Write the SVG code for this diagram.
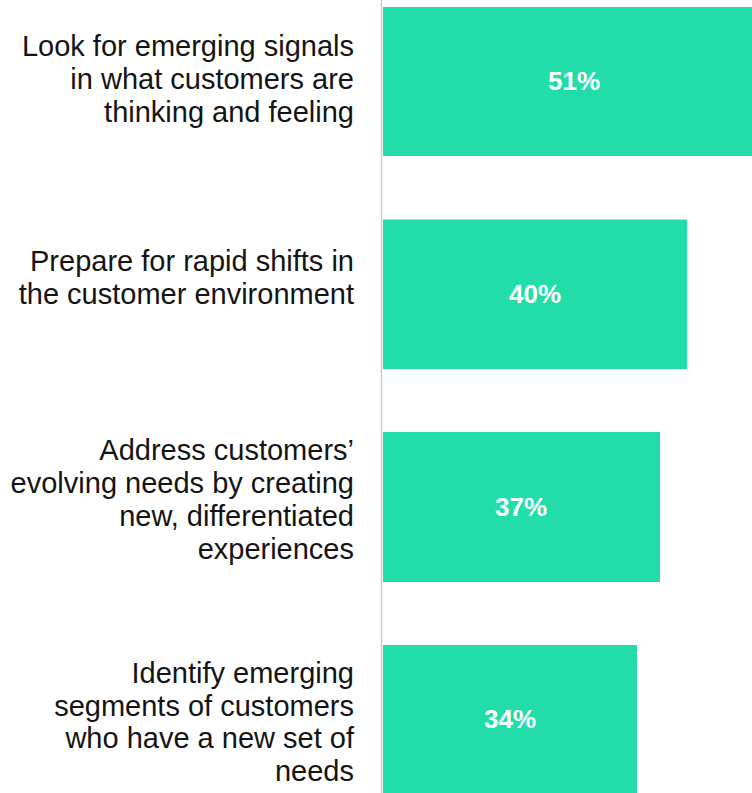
<svg xmlns="http://www.w3.org/2000/svg" width="752" height="793" viewBox="0 0 752 793">
  <style>
    .bar { fill: #22DDAA; }
    .lbl { font-family: "Liberation Sans", Arial, sans-serif; font-size: 29px; fill: #141414; text-anchor: end; }
    .val { font-family: "Liberation Sans", Arial, sans-serif; font-size: 26px; font-weight: bold; fill: #ffffff; text-anchor: middle; }
  </style>
  <rect x="0" y="0" width="752" height="793" fill="#ffffff"/>
  <g id="axis">
    <line x1="381.5" y1="0" x2="381.5" y2="793" stroke="#c9cdd5" stroke-width="1.5"/>
  </g>
  <g id="row1">
    <rect class="bar" x="383" y="7" width="369" height="149"/>
    <text class="val" x="574" y="90">51%</text>
    <text class="lbl" x="354" y="56">Look for emerging signals</text>
    <text class="lbl" x="354" y="89">in what customers are</text>
    <text class="lbl" x="354" y="122">thinking and feeling</text>
  </g>
  <g id="row2">
    <rect class="bar" x="383" y="219.5" width="304" height="149.5"/>
    <text class="val" x="535" y="303">40%</text>
    <text class="lbl" x="354" y="271">Prepare for rapid shifts in</text>
    <text class="lbl" x="354" y="304">the customer environment</text>
  </g>
  <g id="row3">
    <rect class="bar" x="383" y="432" width="277" height="150"/>
    <text class="val" x="521" y="516">37%</text>
    <text class="lbl" x="354" y="460">Address customers’</text>
    <text class="lbl" x="354" y="493">evolving needs by creating</text>
    <text class="lbl" x="354" y="526">new, differentiated</text>
    <text class="lbl" x="354" y="559">experiences</text>
  </g>
  <g id="row4">
    <rect class="bar" x="383" y="645" width="254" height="148"/>
    <text class="val" x="510" y="728">34%</text>
    <text class="lbl" x="354" y="683">Identify emerging</text>
    <text class="lbl" x="354" y="716">segments of customers</text>
    <text class="lbl" x="354" y="748">who have a new set of</text>
    <text class="lbl" x="354" y="781">needs</text>
  </g>
</svg>
